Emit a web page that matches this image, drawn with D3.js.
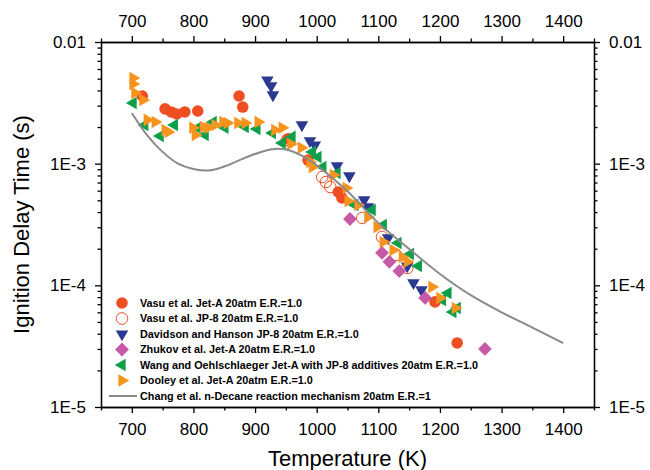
<!DOCTYPE html>
<html>
<head>
<meta charset="utf-8">
<title>Ignition delay</title>
<script src="https://d3js.org/d3.v7.min.js"></script>
<style>
body { margin: 0; background: #fff; font-family: "Liberation Sans", Arial, sans-serif; }
.axis text { font-family: "Liberation Sans", Arial, sans-serif; font-size: 17px; fill: #000; }
.axis path, .axis line { stroke: #000; stroke-width: 1.3; }
.axis-label { font-family: "Liberation Sans", Arial, sans-serif; font-size: 22px; }
.leg { font-family: "Liberation Sans", Arial, sans-serif; font-size: 10.8px; font-weight: bold; }
</style>
</head>
<body>
<div class="content"></div>
<script>
// data: [temperature K, ignition delay s]
var vasuJetA = [[717,3.60e-3],[754,2.82e-3],[764,2.66e-3],[773,2.56e-3],[786,2.66e-3],[807,2.71e-3],
	[874,3.60e-3],[880,2.92e-3],[954,1.60e-3],[986,1.07e-3],[1035,5.85e-4],[1041,5.23e-4],[1192,7.31e-5],[1228,3.36e-5]];
var vasuJP8 = [[952,1.57e-3],[1009,7.78e-4],[1015,7.07e-4],[1022,6.43e-4],[1074,3.58e-4],[1106,2.50e-4],[1129,1.78e-4],[1147,1.39e-4]];
var davidson = [[920,4.87e-3],[926,4.35e-3],[929,3.67e-3],[976,2.08e-3],[989,1.54e-3],[997,1.42e-3],[1033,9.57e-4],
	[1053,7.92e-4],[1077,5.03e-4],[1083,4.41e-4],[1116,2.45e-4],[1147,1.44e-4],[1157,1.05e-4],[1170,9.17e-5]];
var zhukov = [[1054,3.51e-4],[1106,1.85e-4],[1118,1.56e-4],[1134,1.31e-4],[1176,7.88e-5],[1273,3.0e-5]];
var wang = [[702,3.15e-3],[721,2.08e-3],[746,1.69e-3],[769,2.08e-3],[807,1.97e-3],[819,1.72e-3],[832,2.20e-3],[851,1.97e-3],
	[884,2.00e-3],[903,1.93e-3],[928,1.79e-3],[944,1.48e-3],[960,1.66e-3],[993,1.25e-3],[1002,1.135e-3],[1010,9.4e-4],
	[1033,8.38e-4],[1062,4.58e-4],[1090,4.17e-4],[1108,3.13e-4],[1132,2.23e-4],[1152,1.81e-4],[1165,1.44e-4],
	[1213,8.66e-5],[1204,7.59e-5],[1228,6.52e-5],[1221,6.04e-5]];
var dooley = [[702,5.06e-3],[702,4.52e-3],[705,3.81e-3],[718,3.34e-3],[725,2.29e-3],[738,2.20e-3],[754,1.89e-3],[759,1.82e-3],
	[799,1.97e-3],[803,1.72e-3],[816,2.00e-3],[824,1.97e-3],[835,2.08e-3],[848,2.20e-3],[855,2.16e-3],[872,2.16e-3],
	[884,2.16e-3],[905,2.20e-3],[932,1.89e-3],[944,1.97e-3],[958,1.45e-3],[975,1.35e-3],[989,1.03e-3],[993,9.4e-4],
	[1027,8.07e-4],[1048,6.31e-4],[1051,4.94e-4],[1067,4.58e-4],[1083,3.65e-4],[1098,3.02e-4],[1108,2.27e-4],
	[1124,1.95e-4],[1139,1.71e-4],[1147,1.56e-4],[1187,9.7e-5],[1200,7.88e-5],[1225,6.52e-5]];
var changT = [700,725,750,775,800,825,850,875,900,925,950,975,1000,1025,1050,1100,1150,1200,1250,1300,1350,1400];
var changTau = [2.61e-3,1.71e-3,1.25e-3,1.0e-3,9.04e-4,8.79e-4,9.48e-4,1.07e-3,1.20e-3,1.31e-3,1.31e-3,1.17e-3,
	9.7e-4,7.66e-4,5.93e-4,3.26e-4,1.99e-4,1.24e-4,8.3e-5,6.0e-5,4.5e-5,3.35e-5];

var xTicks = [700,800,900,1000,1100,1200,1300,1400];
var yTicks = [1e-5,1e-4,1e-3,1e-2];
var yTickLabels = ["1E-5","1E-4","1E-3","0.01"];

var legendNames = ["Vasu et al. Jet-A 20atm E.R.=1.0",
	"Vasu et al. JP-8 20atm E.R.=1.0",
	"Davidson and Hanson JP-8 20atm E.R.=1.0",
	"Zhukov et al. Jet-A 20atm E.R.=1.0",
	"Wang and Oehlschlaeger Jet-A with JP-8 additives 20atm E.R.=1.0",
	"Dooley et al. Jet-A 20atm E.R.=1.0",
	"Chang et al. n-Decane reaction mechanism 20atm E.R.=1"];

var red = "#EF4E23", navy = "#2B3990", magenta = "#C659A8", green = "#0E9F4B", orange = "#F7941D", grey = "#8A8A8A";

var W = 650, H = 470;
var margin = { top: 42, right: 56, bottom: 63, left: 101 };
var width = W - margin.left - margin.right,
	height = H - margin.top - margin.bottom;

var svg = d3.select(".content").append("svg").attr("width", W).attr("height", H);
var g = svg.append("g").attr("transform", "translate(" + margin.left + "," + margin.top + ")");

var x = d3.scaleLinear().domain([650, 1450]).range([0, width]),
	y = d3.scaleLog().domain([1e-5, 1e-2]).range([height, 0]);

var xMinor = d3.range(650, 1451, 50).filter(function (d) { return d % 100 !== 0; });
var yMinor = [];
yTicks.slice(0, 3).forEach(function (d) { for (var k = 2; k <= 9; k++) yMinor.push(d * k); });

var xfmt = d3.format("d");
function yfmt(d) { return yTickLabels[yTicks.indexOf(d)]; }

// major axes on four sides
g.append("g").attr("class", "axis").attr("transform", "translate(0," + height + ")")
	.call(d3.axisBottom(x).tickValues(xTicks).tickFormat(xfmt).tickSize(6).tickSizeOuter(0).tickPadding(10));
g.append("g").attr("class", "axis")
	.call(d3.axisTop(x).tickValues(xTicks).tickFormat(xfmt).tickSize(6).tickSizeOuter(0).tickPadding(9));
g.append("g").attr("class", "axis")
	.call(d3.axisLeft(y).tickValues(yTicks).tickFormat(yfmt).tickSize(6).tickSizeOuter(0).tickPadding(9));
g.append("g").attr("class", "axis").attr("transform", "translate(" + width + ",0)")
	.call(d3.axisRight(y).tickValues(yTicks).tickFormat(yfmt).tickSize(6).tickSizeOuter(0).tickPadding(9));

// minor ticks
g.append("g").attr("class", "axis").attr("transform", "translate(0," + height + ")")
	.call(d3.axisBottom(x).tickValues(xMinor).tickSize(3.5).tickSizeOuter(0).tickFormat(""));
g.append("g").attr("class", "axis")
	.call(d3.axisTop(x).tickValues(xMinor).tickSize(3.5).tickSizeOuter(0).tickFormat(""));
g.append("g").attr("class", "axis")
	.call(d3.axisLeft(y).tickValues(yMinor).tickSize(3.5).tickSizeOuter(0).tickFormat(""));
g.append("g").attr("class", "axis").attr("transform", "translate(" + width + ",0)")
	.call(d3.axisRight(y).tickValues(yMinor).tickSize(3.5).tickSizeOuter(0).tickFormat(""));

// axis titles
svg.append("text").attr("class", "axis-label")
	.attr("x", margin.left + width / 2).attr("y", 466).attr("text-anchor", "middle")
	.text("Temperature (K)");
svg.append("text").attr("class", "axis-label")
	.attr("transform", "translate(29," + (margin.top + height / 2) + ") rotate(-90)")
	.attr("text-anchor", "middle")
	.text("Ignition Delay Time (s)");

// marker shapes
var tri = d3.symbol().type(d3.symbolTriangle).size(68)(),
	dia = d3.symbol().type(d3.symbolSquare).size(95)();

var series = [
	{ data: vasuJetA, kind: "circle", fill: red, stroke: "none" },
	{ data: vasuJP8, kind: "circle", fill: "none", stroke: red },
	{ data: davidson, kind: "tri", rot: 180, fill: navy },
	{ data: zhukov, kind: "dia", rot: 45, fill: magenta },
	{ data: wang, kind: "tri", rot: -90, fill: green },
	{ data: dooley, kind: "tri", rot: 90, fill: orange }
];

function drawMarker(sel, s) {
	if (s.kind === "circle") {
		sel.append("circle").attr("r", 5.8)
			.attr("fill", s.fill).attr("stroke", s.stroke).attr("stroke-width", 1);
	} else {
		sel.append("path").attr("d", s.kind === "tri" ? tri : dia)
			.attr("transform", "rotate(" + s.rot + ")")
			.attr("fill", s.fill);
	}
}

series.forEach(function (s) {
	g.append("g").selectAll("g")
		.data(s.data)
	  .enter().append("g")
		.attr("transform", function (d) { return "translate(" + x(d[0]) + "," + y(d[1]) + ")"; })
		.each(function () { drawMarker(d3.select(this), s); });
});

// model curve
var line = d3.line()
	.curve(d3.curveCatmullRom)
	.x(function (d, i) { return x(changT[i]); })
	.y(function (d) { return y(d); });

g.append("path")
	.datum(changTau)
	.attr("d", line)
	.attr("fill", "none")
	.attr("stroke", grey)
	.attr("stroke-width", 2);

// legend
var legY0 = 303, legDy = 15.5;
var leg = svg.append("g");
legendNames.forEach(function (name, i) {
	var yy = legY0 + i * legDy;
	if (i < series.length) {
		var m = leg.append("g").attr("transform", "translate(122," + yy + ")");
		drawMarker(m, series[i]);
	} else {
		leg.append("line").attr("x1", 109).attr("x2", 137).attr("y1", yy).attr("y2", yy)
			.attr("stroke", grey).attr("stroke-width", 2);
	}
	leg.append("text").attr("class", "leg")
		.attr("x", 140).attr("y", yy + 3.8)
		.text(name);
});
</script>
</body>
</html>
